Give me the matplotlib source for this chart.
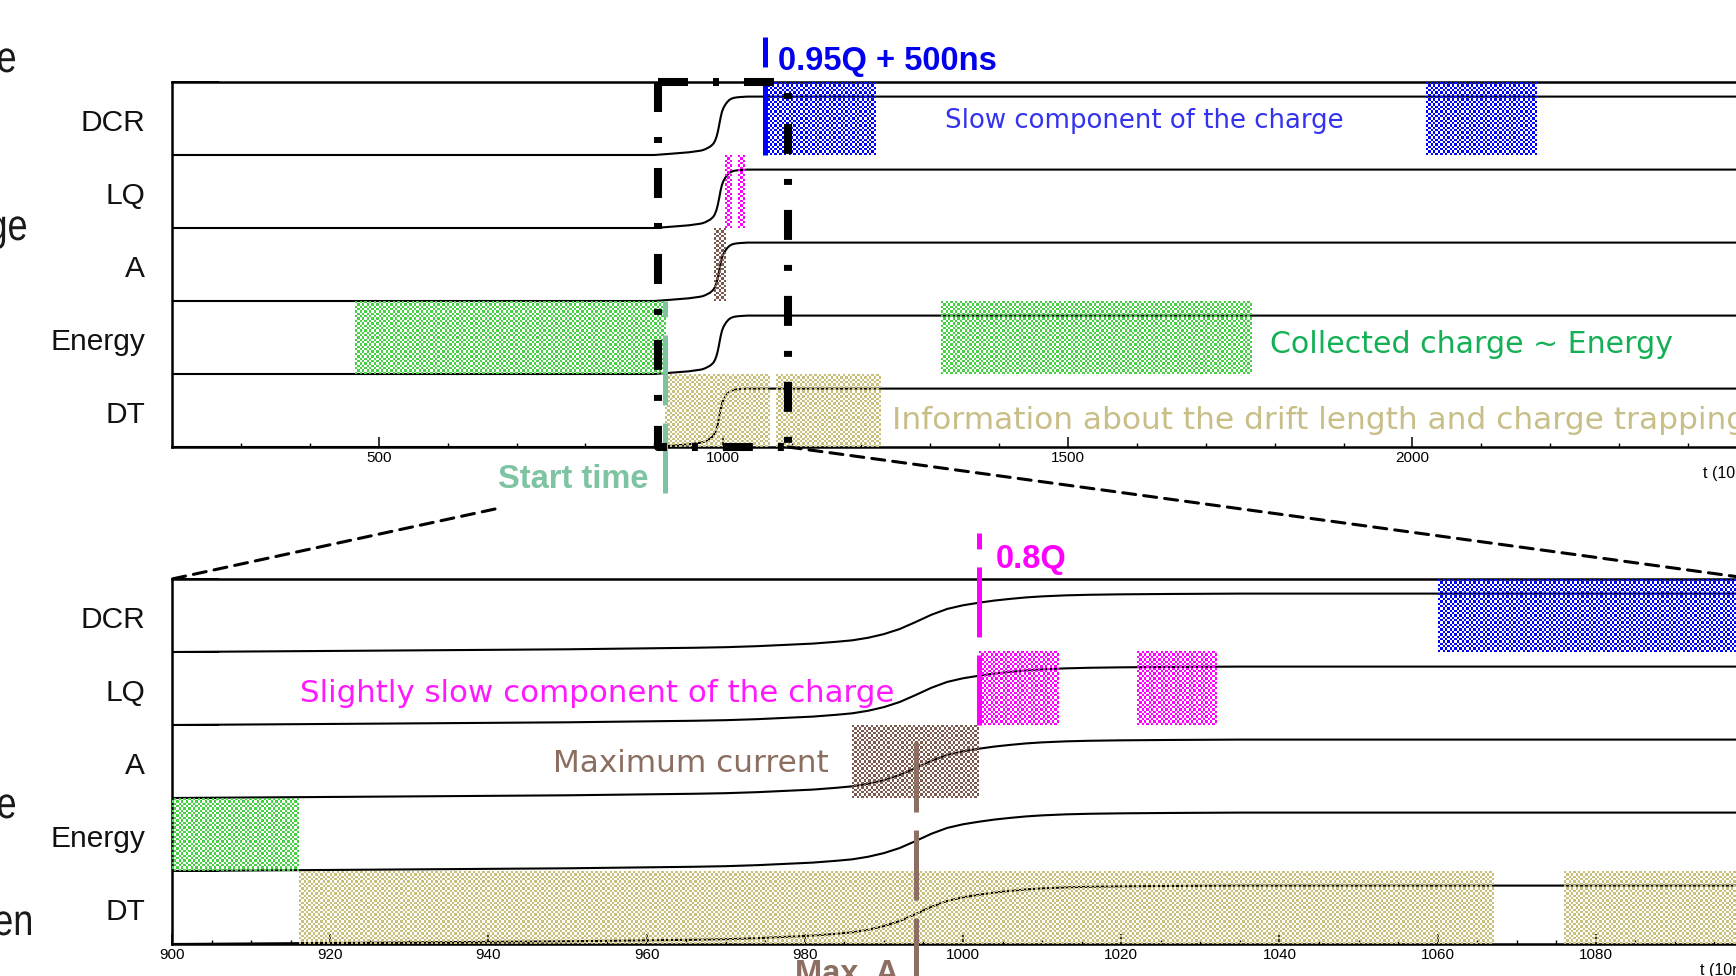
import numpy as np
import matplotlib
matplotlib.use('Agg')
import matplotlib.pyplot as plt
from matplotlib.colors import to_rgba
from matplotlib.patches import ConnectionPatch, PathPatch
from matplotlib.ticker import MultipleLocator
from matplotlib.textpath import TextPath
from matplotlib.font_manager import FontProperties
from matplotlib.transforms import Affine2D, IdentityTransform

plt.rcParams['lines.scale_dashes'] = False
plt.rcParams['font.family'] = ['Liberation Sans', 'DejaVu Sans']

# channels stacked from top to bottom, each drawn on its own row offset
channels = ['DCR', 'LQ', 'A', 'Energy', 'DT']
offsets = [4, 3, 2, 1, 0]

# normalised charge pulse (same waveform for every channel), t in 10 ns samples
pulse_t = [200, 900, 925, 950, 966, 970, 974, 978, 981, 984, 986, 988, 990, 992,
           994, 996, 998, 1000, 1002, 1004, 1006, 1008, 1010, 1013, 1016, 1020,
           1026, 1035, 2500]
pulse_v = [0.0, 0.0, 0.018, 0.037, 0.058, 0.066, 0.08, 0.10, 0.115, 0.14, 0.16,
           0.195, 0.245, 0.315, 0.41, 0.51, 0.59, 0.64, 0.675, 0.705, 0.728,
           0.748, 0.762, 0.776, 0.784, 0.79, 0.795, 0.80, 0.80]

# integration windows per channel
windows = {
    'DCR': [(1060, 1220), (2020, 2180)],
    'LQ': [(1002, 1012), (1022, 1032)],
    'A': [(986, 1002)],
    'Energy': [(466, 916), (1316, 1766)],
    'DT': [(916, 1067), (1076, 1227)],
}
win_colors = {'DCR': '#0000ff', 'LQ': '#ff00ff', 'A': '#7a5a4e',
              'Energy': '#46d046', 'DT': '#c9c07e'}

start_time = 916
t_95q_500ns = 1060
t_08q = 1002
t_max_a = 994
zoom_frame = (905, 1094)
zoom_range = (900, 1100)

W, H = 1736, 976
fig = plt.figure(figsize=(W / 100, H / 100), dpi=100)
ax_top = fig.add_axes([172 / W, 1 - 447 / H, 1585 / W, 365 / H])
ax_bot = fig.add_axes([172 / W, 1 - 944 / H, 1582 / W, 365 / H])


def checker(ax, x0, x1, y0, y1, color, cell=2.35):
    p0 = ax.transData.transform((x0, y0))
    p1 = ax.transData.transform((x1, y1))
    nx = max(1, int(round(abs(p1[0] - p0[0]) / cell)))
    ny = max(1, int(round(abs(p1[1] - p0[1]) / cell)))
    ii, jj = np.indices((ny, nx))
    img = np.zeros((ny, nx, 4))
    img[(ii + jj) % 2 == 0] = to_rgba(color)
    ax.imshow(img, extent=(x0, x1, y0, y1), origin='lower',
              interpolation='nearest', aspect='auto', zorder=3)


def vmark(ax, x, y_from, y_to, color):
    ax.plot([x, x], [y_from, y_to], color=color, lw=3.6, dashes=(50.4, 13),
            clip_on=False, zorder=6)


def setup(ax, xlim, major, minor):
    ax.set_xlim(*xlim)
    ax.set_ylim(0, 5)
    for off in offsets:
        ax.plot(pulse_t, off + np.array(pulse_v), color='black', lw=1.5, zorder=2)
    for ch, off in zip(channels, offsets):
        for a, b in windows[ch]:
            checker(ax, a, b, off, off + 1, win_colors[ch])
        ax.annotate(ch, xy=(0, off + 0.5), xycoords=('axes fraction', 'data'),
                    xytext=(-19.5, -3.5), textcoords='offset points',
                    ha='right', va='center', fontsize=21.5, color='#111111')
    ax.set_xlim(*xlim)
    ax.set_ylim(0, 5)
    ax.spines['right'].set_visible(False)
    for s in ['top', 'left', 'bottom']:
        ax.spines[s].set_linewidth(1.8)
    ax.xaxis.set_major_locator(MultipleLocator(major))
    ax.xaxis.set_minor_locator(MultipleLocator(minor))
    ax.tick_params(axis='x', which='major', direction='in', length=7, width=1.1,
                   labelsize=11, pad=3, top=False)
    ax.tick_params(axis='x', which='minor', direction='in', length=3, width=1.0,
                   top=False)
    ax.set_yticks(range(6))
    ax.set_yticklabels([])
    ax.tick_params(axis='y', direction='in', length=34, width=1.4, right=False)
    ax.annotate('t (10ns)', xy=(1, 0), xycoords='axes fraction', xytext=(0, -19),
                textcoords='offset points', ha='right', va='center', fontsize=11.5)


setup(ax_top, (200, 2500), 500, 100)
setup(ax_bot, zoom_range, 20, 5)

# zoomed region frame on the overview
fx0, fx1 = zoom_frame
ax_top.plot([fx0, fx1, fx1], [5, 5, 0], color='black', lw=5.8,
            dashes=(21.6, 18, 4.3, 18), clip_on=False, zorder=7)
ax_top.plot([fx0, fx0, fx1], [5, 0, 0], color='black', lw=5.8,
            dashes=(21.6, 18, 4.3, 18), clip_on=False, zorder=7)

# markers
vmark(ax_top, t_95q_500ns, 4, 5.62, '#0000ff')
vmark(ax_top, start_time, -0.63, 2, '#7fc4a2')
vmark(ax_bot, t_08q, 3, 5.63, '#ff00ff')
vmark(ax_bot, t_max_a, 2.77, -0.7, '#8c6e63')

bold = dict(fontweight='bold', fontsize=23.5, family='Liberation Sans')
ax_top.text(1079, 5.164, '0.95Q + 500ns', color='#0000ee', **bold)
ax_top.text(891, -0.56, 'Start time', color='#7fc4a2', ha='right', **bold)
ax_bot.text(1004.2, 5.15, '0.8Q', color='#ff00ff', **bold)
ax_bot.text(978.8, -0.534, 'Max. A', color='#8c6e63', **bold)

plain = dict(family='DejaVu Sans', clip_on=False, zorder=8)
ax_top.text(1322, 4.366, 'Slow component of the charge', color='#3333ee',
            fontsize=18.7, **plain)
ax_top.text(1793, 1.288, 'Collected charge ~ Energy', color='#14b055',
            fontsize=21.6, **plain)
ax_top.text(1245, 0.247, 'Information about the drift length and charge trapping',
            color='#c8bf88', fontsize=22.5, **plain)
ax_bot.text(916.2, 3.315, 'Slightly slow component of the charge',
            color='#ff19ff', fontsize=22.2, **plain)
ax_bot.text(948.2, 2.356, 'Maximum current', color='#8b6e60', fontsize=22.4, **plain)

# zoom connectors
con_r = ConnectionPatch(xyA=(fx1, 0), coordsA=ax_top.transData,
                        xyB=(zoom_range[1], 5), coordsB=ax_bot.transData,
                        color='black', lw=2.2, linestyle=(0, (9.4, 5.8)))
con_l = ConnectionPatch(xyA=(495, H - 509), coordsA='figure pixels',
                        xyB=(zoom_range[0], 5), coordsB=ax_bot.transData,
                        color='black', lw=2.2, linestyle=(0, (9.4, 5.8)))
fig.add_artist(con_r)
fig.add_artist(con_l)

# slide text cut at the left edge (narrow lettering)
fp = FontProperties(family='Liberation Sans')
for s, xr, yb in [('e', 15, 72), ('ge', 26, 240), ('e', 15, 818), ('en', 31, 935)]:
    tp = TextPath((0, 0), s, size=44, prop=fp)
    right = tp.get_extents().x1 * 0.82
    tr = Affine2D().scale(0.82, 1).translate(xr - right, H - yb)
    fig.add_artist(PathPatch(tr.transform_path(tp), facecolor='#1a1a1a',
                             edgecolor='none', transform=IdentityTransform()))

fig.savefig('out.png', dpi=100)
